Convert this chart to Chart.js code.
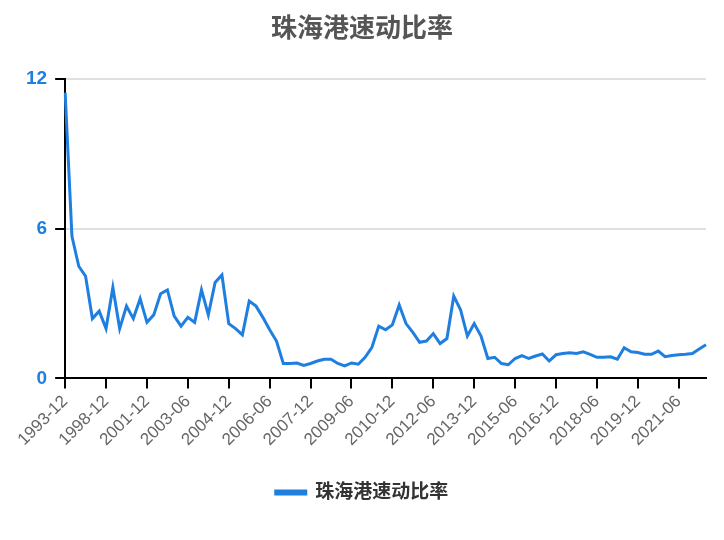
<!DOCTYPE html>
<html lang="zh">
<head>
    <meta charset="UTF-8">
    <title>珠海港速动比率</title>
    <script src="https://cdn.jsdelivr.net/npm/chart.js"></script>
    <style>
        body { margin: 0; background: #fff; }
        #wrap { width: 724px; height: 540px; }
    </style>
</head>
<body>
    <div id="wrap"><canvas id="chart"></canvas></div>
    <script>
        const labels = [
            '1993-12', '1994-12', '1995-12', '1996-12', '1997-12', '1998-06',
            '1998-12', '1999-06', '1999-12', '2000-06', '2000-12', '2001-06',
            '2001-12', '2002-03', '2002-06', '2002-09', '2002-12', '2003-03',
            '2003-06', '2003-09', '2003-12', '2004-03', '2004-06', '2004-09',
            '2004-12', '2005-03', '2005-06', '2005-09', '2005-12', '2006-03',
            '2006-06', '2006-09', '2006-12', '2007-03', '2007-06', '2007-09',
            '2007-12', '2008-03', '2008-06', '2008-09', '2008-12', '2009-03',
            '2009-06', '2009-09', '2009-12', '2010-03', '2010-06', '2010-09',
            '2010-12', '2011-03', '2011-06', '2011-09', '2011-12', '2012-03',
            '2012-06', '2012-09', '2012-12', '2013-03', '2013-06', '2013-09',
            '2013-12', '2014-03', '2014-06', '2014-09', '2014-12', '2015-03',
            '2015-06', '2015-09', '2015-12', '2016-03', '2016-06', '2016-09',
            '2016-12', '2017-03', '2017-06', '2017-09', '2017-12', '2018-03',
            '2018-06', '2018-09', '2018-12', '2019-03', '2019-06', '2019-09',
            '2019-12', '2020-03', '2020-06', '2020-09', '2020-12', '2021-03',
            '2021-06', '2021-09', '2021-12', '2022-03', '2022-06'
        ];
        const quickRatio = [
            11.46, 5.7, 4.5, 4.1, 2.4, 2.7, 2.0, 3.65, 2.0, 2.9, 2.4, 3.2,
            2.25, 2.55, 3.4, 3.55, 2.5, 2.1, 2.45, 2.25, 3.55, 2.55, 3.85, 4.15,
            2.2, 2.0, 1.75, 3.1, 2.9, 2.45, 1.95, 1.5, 0.6, 0.6, 0.62, 0.52,
            0.6, 0.7, 0.77, 0.77, 0.6, 0.5, 0.62, 0.57, 0.85, 1.25, 2.1, 1.95,
            2.15, 2.95, 2.2, 1.85, 1.45, 1.5, 1.8, 1.4, 1.6, 3.3, 2.75, 1.7,
            2.2, 1.7, 0.8, 0.85, 0.6, 0.55, 0.8, 0.92, 0.8, 0.9, 0.98, 0.7,
            0.95, 1.0, 1.03, 1.0, 1.07, 0.97, 0.85, 0.85, 0.87, 0.77, 1.23, 1.07,
            1.04, 0.97, 0.97, 1.1, 0.87, 0.92, 0.95, 0.97, 1.0, 1.18, 1.35
        ];
        const yTicks = [0, 6, 12];

        const font = "'Liberation Sans', 'Noto Sans CJK SC', sans-serif";

        new Chart(document.getElementById('chart'), {
            type: 'line',
            data: {
                labels: labels,
                datasets: [{
                    label: '珠海港速动比率',
                    data: quickRatio,
                    borderColor: '#1f7fe0',
                    backgroundColor: '#1f7fe0',
                    borderWidth: 3,
                    pointRadius: 0,
                    tension: 0,
                    fill: false
                }]
            },
            options: {
                responsive: true,
                maintainAspectRatio: false,
                animation: false,
                layout: { padding: { left: 18, right: 18, top: 14, bottom: 28 } },
                plugins: {
                    title: {
                        display: true,
                        text: '珠海港速动比率',
                        color: '#555',
                        font: { family: font, size: 26, weight: 'bold' },
                        padding: { top: 0, bottom: 34 }
                    },
                    legend: {
                        position: 'bottom',
                        labels: {
                            color: '#333',
                            font: { family: font, size: 19, weight: 'bold' },
                            boxWidth: 30,
                            boxHeight: 3,
                            padding: 30
                        }
                    },
                    tooltip: { enabled: false }
                },
                scales: {
                    x: {
                        offset: false,
                        border: { color: '#000', width: 2 },
                        grid: {
                            display: true,
                            drawOnChartArea: false,
                            color: '#000',
                            lineWidth: 2,
                            tickLength: 10
                        },
                        ticks: {
                            color: '#666',
                            font: { family: font, size: 17 },
                            maxRotation: 45,
                            minRotation: 45,
                            autoSkip: false,
                            callback: (v, i) => i % 6 === 0 ? labels[i] : null
                        }
                    },
                    y: {
                        min: 0,
                        max: 12,
                        afterBuildTicks: axis => { axis.ticks = yTicks.map(v => ({ value: v })); },
                        border: { color: '#000', width: 2 },
                        grid: {
                            color: '#e0e0e0',
                            lineWidth: 2,
                            tickColor: '#000',
                            tickLength: 10
                        },
                        ticks: {
                            color: '#1f7fe0',
                            padding: 8,
                            font: { family: font, size: 19, weight: 'bold' }
                        }
                    }
                }
            }
        });
    </script>
</body>
</html>
